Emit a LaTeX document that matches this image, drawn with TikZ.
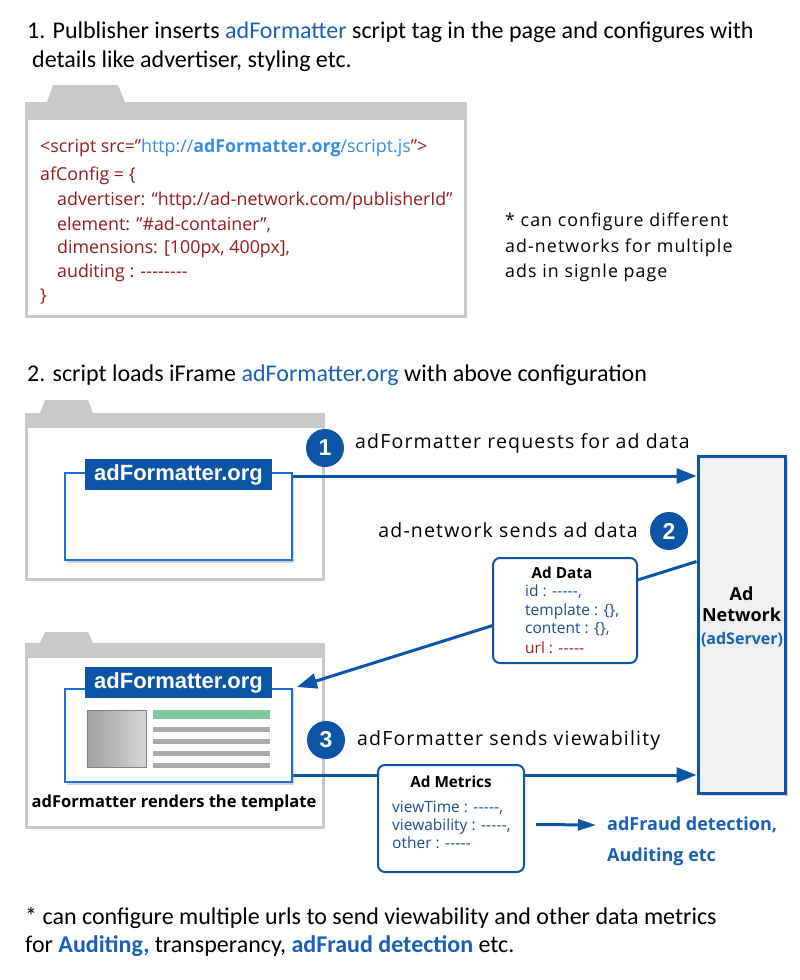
\documentclass[tikz,border=0pt]{standalone}
\usepackage{fontspec}
\setmainfont{Open Sans}
\newfontfamily\spacedfont{Open Sans}[LetterSpace=6]
\newfontfamily\calfont{Carlito}
\newfontfamily\arialfont{Liberation Sans}
\usetikzlibrary{arrows.meta,shadows}
\definecolor{dblue}{RGB}{12,84,165}
\definecolor{iblue}{RGB}{30,110,215}
\definecolor{framegray}{RGB}{200,200,200}
\definecolor{codered}{RGB}{150,25,30}
\definecolor{linkblue}{RGB}{55,140,225}
\definecolor{hblue}{RGB}{25,95,180}
\definecolor{netfill}{RGB}{240,240,240}
\definecolor{datablue}{RGB}{30,75,140}
\definecolor{greenbar}{RGB}{128,200,155}
\definecolor{graybar}{RGB}{170,170,170}
\newcommand\dashrun[1]{\foreach \i in {1,...,#1}{-\kern0.2pt}}
\begin{document}
\begin{tikzpicture}[x=1pt,y=-1pt,
  frameborder/.style={draw=framegray, line width=3pt, fill=white},
  framebar/.style={fill=framegray},
  iframebox/.style={draw=iblue, line width=2pt, fill=white, minimum width=227pt, inner sep=0pt,
     drop shadow={opacity=0.35, shadow xshift=2pt, shadow yshift=-3pt}},
  tablabel/.style={fill=dblue, text=white, font=\arialfont\bfseries\fontsize{22}{24}\selectfont,
     inner sep=0pt, minimum width=187pt, minimum height=31pt},
  stepcircle/.style={circle, fill=dblue, text=white, minimum size=38pt, inner sep=0pt,
     font=\arialfont\bfseries\fontsize{23}{24}\selectfont},
  arr/.style={draw=dblue, line width=3pt, -{Triangle[length=20pt,width=15pt]}},
  smallarr/.style={draw=dblue, line width=3pt, -{Triangle[length=18pt,width=11pt]}},
  infobox/.style={draw=dblue, line width=2pt, fill=white, rounded corners=7pt, inner sep=0pt},
  heading/.style={anchor=base west, inner sep=0pt, font=\calfont\fontsize{24}{28}\selectfont},
  codeline/.style={anchor=west, inner sep=0pt, text=codered, font=\fontsize{17.8}{20}\selectfont},
  steplabel/.style={inner sep=0pt, font=\spacedfont\fontsize{19.5}{22}\selectfont},
  note/.style={anchor=west, inner sep=0pt, font=\spacedfont\fontsize{17.8}{20}\selectfont},
  dataline/.style={anchor=west, inner sep=0pt, text=datablue, font=\fontsize{15.5}{18}\selectfont},
  boxtitle/.style={inner sep=0pt, font=\bfseries\fontsize{15.3}{18}\selectfont},
  resultlabel/.style={anchor=west, inner sep=0pt, text=hblue, font=\bfseries\fontsize{18}{21}\selectfont}
]
\useasboundingbox (0,0) rectangle (800,980);

% ---------- headings ----------
\node[heading] (h1a) at (27,38.5) {1. Pulblisher inserts \textcolor{hblue}{adFormatter} script tag in the page and configures with};
\node[heading] (h1b) at (32,67) {details like advertiser, styling etc.};

% ---------- frame 1 (code) ----------
\draw[frameborder] (26.5,103.5) rectangle (465.5,316.5);
\fill[framebar] (25,102) rectangle (467,120);
\fill[framebar] (47,102) -- (53,85) -- (118,85) -- (125,102) -- cycle;

\node[codeline] (c1) at (40,148) {<script src=”\textcolor{linkblue}{http://\textbf{adFormatter.org}/script.js}”>};
\node[codeline] (c2) at (40,176) {afConfig = \{};
\node[codeline] (c3) at (57,201) {advertiser: “http://ad-network.com/publisherId”};
\node[codeline] (c4) at (57,225) {element: ”\#ad-container”,};
\node[codeline] (c5) at (57,249) {dimensions: [100px, 400px],};
\node[codeline] (c6) at (57,273) {auditing : \dashrun{8}};
\node[codeline] (c7) at (40,297) {\}};

\node[note] (n1) at (505,222) {* can configure different};
\node[note] (n2) at (505,248) {ad-networks for multiple};
\node[note] (n3) at (505,273) {ads in signle page};

\node[heading] (h2) at (27,381) {2. script loads iFrame \textcolor{hblue}{adFormatter.org} with above configuration};

% ---------- frame 2 ----------
\draw[frameborder] (26.5,414.5) rectangle (323.5,579.5);
\fill[framebar] (25,413) rectangle (325,428);
\fill[framebar] (40,413) -- (45,400) -- (88,400) -- (93,413) -- cycle;
\node[iframebox, minimum height=87pt] (if1) at (178.5,516.5) {};
\node[tablabel] (t1) at (178.5,474.5) {adFormatter.org};

% ---------- frame 3 ----------
\draw[frameborder] (26.5,644.5) rectangle (323.5,827.5);
\fill[framebar] (25,643) rectangle (325,658);
\fill[framebar] (40,643) -- (45,632) -- (88,632) -- (93,643) -- cycle;
\node[iframebox, minimum height=93pt] (if2) at (178.5,735.5) {};
\node[tablabel] (t2) at (178.5,682.5) {adFormatter.org};
\shade[left color={rgb,255:red,160;green,160;blue,160}, right color={rgb,255:red,215;green,215;blue,215}, draw=gray] (87,710) rectangle (146,767);
\fill[greenbar] (153,710) rectangle (270,719);
\fill[graybar] (153,727) rectangle (270,732);
\fill[graybar] (153,739) rectangle (270,744);
\fill[graybar] (153,751) rectangle (270,756);
\fill[graybar] (153,763) rectangle (270,768);
\node[inner sep=0pt, font=\bfseries\fontsize{16.5}{19}\selectfont] (rt) at (174,803) {adFormatter renders the template};

% ---------- Ad Network ----------
\node[draw=dblue, line width=3pt, fill=netfill, minimum width=87pt, minimum height=337pt, inner sep=0pt,
      drop shadow={opacity=0.3, shadow xshift=3pt, shadow yshift=-3pt}] (net) at (741.5,624.5) {};
\node[inner sep=0pt, font=\bfseries\fontsize{18}{22}\selectfont, align=center] (netl) at (741.5,604) {Ad\\[-1pt]Network};
\node[inner sep=0pt, text=hblue, font=\bfseries\fontsize{16}{18}\selectfont] (nets) at (742,640) {(adServer)};

% ---------- arrows ----------
\draw[arr] ([yshift=-4pt]if1.north east) -- ([yshift=-4pt]if1.north east -| net.west);
\draw[arr] ([yshift=-107pt]net.north west) -- ([xshift=4pt,yshift=1pt]if2.north east);
\draw[arr] ([yshift=8pt]if2.south east) -- ([yshift=8pt]if2.south east -| net.west);

% ---------- info boxes ----------
\node[infobox, minimum width=144pt, minimum height=105pt] (adata) at (565,610.5) {};
\node[boxtitle] (adt) at (562,573) {Ad Data};
\node[dataline] (d1) at (525,592) {id : \dashrun{5},};
\node[dataline] (d2) at (525,611) {template : \{\},};
\node[dataline] (d3) at (525,629) {content : \{\},};
\node[dataline, text=codered] (d4) at (525,648) {url : \dashrun{5}};

\node[infobox, minimum width=146pt, minimum height=107pt] (ametrics) at (451,818.5) {};
\node[boxtitle] (amt) at (451,782) {Ad Metrics};
\node[dataline] (m1) at (392,808) {viewTime : \dashrun{5},};
\node[dataline] (m2) at (392,826) {viewability : \dashrun{5},};
\node[dataline] (m3) at (392,843) {other : \dashrun{5}};

\node[resultlabel] (fraud) at (607,825) {adFraud detection,};
\node[resultlabel] (audit) at (607,857) {Auditing etc};
\draw[smallarr] ([xshift=11pt,yshift=-6pt]ametrics.east) -- ([xshift=-11pt]fraud.west);

% ---------- step circles & labels ----------
\node[stepcircle] (s1) at (325,448) {1};
\node[steplabel, anchor=west] (l1) at (355,443) {adFormatter requests for ad data};
\node[stepcircle] (s2) at (669,531) {2};
\node[steplabel, anchor=east] (l2) at (638,530) {ad-network sends ad data};
\node[stepcircle] (s3) at (326,740) {3};
\node[steplabel, anchor=west] (l3) at (357,740) {adFormatter sends viewability};

% ---------- bottom note ----------
\node[heading] (b1) at (25,924) {* can configure multiple urls to send viewability and other data metrics};
\node[heading] (b2) at (25,952) {for \textcolor{hblue}{\textbf{Auditing,}} transperancy, \textcolor{hblue}{\textbf{adFraud detection}} etc.};
\end{tikzpicture}
\end{document}
